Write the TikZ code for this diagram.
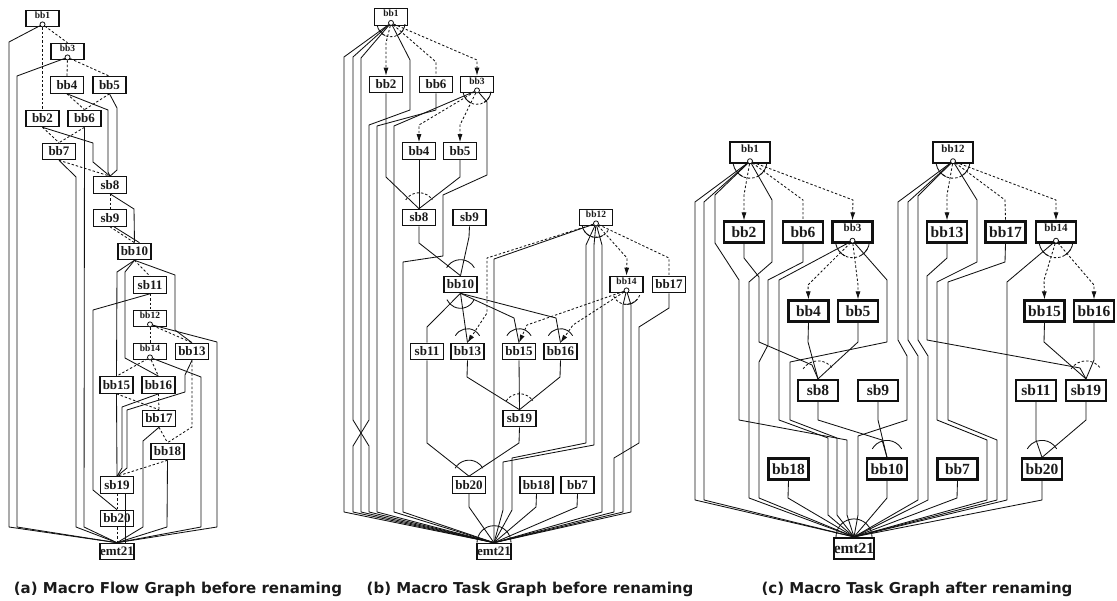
\documentclass[tikz,border=0pt]{standalone}
\usepackage{fontspec}
\setmainfont{Liberation Serif}
\newfontfamily\captionfont{DejaVu Sans}
\usetikzlibrary{calc, arrows.meta, positioning}
\definecolor{color_line}{HTML}{111111}
\definecolor{color_text}{HTML}{1A1A1A}
\tikzset{
  task_box/.style={draw=color_line, line width=1.1pt, fill=white, inner sep=0pt, minimum width=33pt, minimum height=16.5pt, text=color_text, font=\bfseries\fontsize{13}{13}\selectfont},
  task_small/.style={task_box, font=\bfseries\fontsize{9.5}{9.5}\selectfont, text height=7pt, text depth=7pt},
  task_wide/.style={task_box, line width=2.2pt, minimum width=40pt, minimum height=21pt, font=\bfseries\fontsize{15.5}{15.5}\selectfont},
  task_wide_small/.style={task_wide, font=\bfseries\fontsize{11}{11}\selectfont, text height=8pt, text depth=8pt},
  or_dot/.style={circle, draw=color_line, fill=white, line width=0.8pt, inner sep=0pt, minimum size=5pt},
  dep_line/.style={draw=color_line, line width=0.85pt, line join=round},
  ctl_line/.style={dep_line, dash pattern=on 2.4pt off 2pt},
  ctl_arrow/.style={ctl_line, -{Latex[length=8pt, width=5pt]}},
  caption_text/.style={font=\captionfont\bfseries\fontsize{15}{15}\selectfont, text=color_text},
}

\begin{document}
\begin{tikzpicture}[x=1pt, y=-1pt]
    \useasboundingbox (0,0) rectangle (1117,601);
    % (a) macro flow graph
    \node[task_small] (a1) at (42.5,18.5) {bb1};
    \node[task_small] (a3) at (67.5,51.5) {bb3};
    \node[task_box] (a4) at (67,85) {bb4};
    \node[task_box] (a5) at (109.5,85) {bb5};
    \node[task_box] (a2) at (42.5,118.5) {bb2};
    \node[task_box] (a6) at (84.5,118.5) {bb6};
    \node[task_box] (a7) at (59,151.5) {bb7};
    \node[task_box] (a8) at (110,185) {sb8};
    \node[task_box] (a9) at (110,218) {sb9};
    \node[task_box] (a10) at (134.5,251.5) {bb10};
    \node[task_box] (a11) at (150,285) {sb11};
    \node[task_small] (a12) at (150,318.5) {bb12};
    \node[task_small] (a14) at (150,351.5) {bb14};
    \node[task_box] (a13) at (192,351.5) {bb13};
    \node[task_box] (a15) at (116.5,385) {bb15};
    \node[task_box] (a16) at (158.5,385) {bb16};
    \node[task_box] (a17) at (159,418.5) {bb17};
    \node[task_box] (a18) at (167.5,451.5) {bb18};
    \node[task_box] (a19) at (117,485) {sb19};
    \node[task_box] (a20) at (117,518.5) {bb20};
    \node[task_box] (a21) at (117,551.5) {emt21};
    \node[or_dot, anchor=south] (a1-o) at (a1.south) {};
    \node[or_dot, anchor=south] (a3-o) at (a3.south) {};
    \node[or_dot, anchor=south] (a12-o) at (a12.south) {};
    \node[or_dot, anchor=south] (a14-o) at (a14.south) {};

    \draw[ctl_line] (a1-o) -- (a3.north);
    \draw[ctl_line] (a1-o) -- (a2.north);
    \draw[dep_line] (a1-o) -- (9,42) -- (9,527) -- (a21.north);
    \draw[dep_line] (a3-o) -- (17,76) -- (17,527) -- (a21.north);
    \draw[ctl_line] (a3-o) -- (a4.north);
    \draw[ctl_line] (a3-o) -- (a5.north);
    \draw[ctl_line] (a4.south) -- (a6.north);
    \draw[ctl_line] (a5.south) -- (a6.north);
    \draw[dep_line] (a4.south) -- (108,110) -- (108,172) -- (a8.north);
    \draw[dep_line] (a5.south) -- (117,108) -- (117,170) -- (a8.north);
    \draw[ctl_line] (a2.south) -- (a7.north);
    \draw[ctl_line] (a6.south) -- (a7.north);
    \draw[dep_line] (a2.south) -- (93,143) -- (93,162) -- (a8.north);
    \draw[dep_line] (a6.south) -- (84,527) -- (a21.north);
    \draw[ctl_line] (a7.south) -- (a8.north);
    \draw[dep_line] (a7.south) -- (76,177) -- (76,527) -- (a21.north);
    \draw[ctl_line] (a8.south) -- (a9.north);
    \draw[dep_line] (a8.south) -- (134,209) -- (a10.north);
    \draw[ctl_line] (a9.south) -- (a10.north);
    \draw[dep_line] ([xshift=4pt]a9.south) -- ([xshift=5pt]a10.north);
    \draw[ctl_line] (a10.south) -- (a11.north);
    \draw[dep_line] (a10.south) -- (117,272) -- (a15.north);
    \draw[dep_line] (a10.south) -- (125,272) -- (125,358) -- (a16.north);
    \draw[dep_line] (a10.south) -- (175,275) -- (175,330) -- (a13.north);
    \draw[ctl_line] (a11.south) -- (a12.north);
    \draw[dep_line] (a11.south) -- (93,310) -- (93,490) -- (a20.north);
    \draw[ctl_line] (a12-o) -- (a14.north);
    \draw[ctl_line] (a12-o) -- (a13.north);
    \draw[dep_line] (a12-o) -- (217,342) -- (217,527) -- (a21.north);
    \draw[ctl_line] (a14-o) -- (a15.north);
    \draw[ctl_line] (a14-o) -- (a16.north);
    \draw[dep_line] (a14-o) -- (201,377) -- (201,527) -- (a21.north);
    \draw[dep_line] (a13.south) -- (185,375) -- (185,392) -- (127,410) -- (127,468) -- (a19.north);
    \draw[dep_line] (a16.south) -- (122,407) -- (122,468) -- (a19.north);
    \draw[dep_line] (a15.south) -- (a19.north);
    \draw[ctl_line] (a15.south) -- (a17.north);
    \draw[ctl_line] (a16.south) -- (a17.north);
    \draw[dep_line] (a17.south) -- (143,441) -- (143,527) -- (a21.north);
    \draw[ctl_line] (a17.south) -- (a18.north);
    \draw[ctl_line] (a13.south) -- (192,427) -- (a18.north);
    \draw[ctl_line] (a18.south) -- (a19.north);
    \draw[dep_line] (a18.south) -- (167,527) -- (a21.north);
    \draw[ctl_line] (a19.south) -- (a20.north);
    \draw[dep_line] ([xshift=8pt]a19.south) -- ([xshift=8pt]a21.north);
    \draw[ctl_line] (a20.south) -- (a21.north);

    % (b) macro task graph before renaming
    \node[task_small] (b1) at (391,17) {bb1};
    \node[task_box] (b2) at (386,84.5) {bb2};
    \node[task_box] (b6) at (436,84.5) {bb6};
    \node[task_small] (b3) at (477,84.5) {bb3};
    \node[task_box] (b4) at (419,151) {bb4};
    \node[task_box] (b5) at (460,151) {bb5};
    \node[task_box] (b8) at (419,217.5) {sb8};
    \node[task_box] (b9) at (469.5,217.5) {sb9};
    \node[task_box] (b10) at (460.5,284.5) {bb10};
    \node[task_small] (b12) at (596,217.5) {bb12};
    \node[task_small] (b14) at (626.5,284.5) {bb14};
    \node[task_box] (b17) at (669,284.5) {bb17};
    \node[task_box] (b11) at (427,351.5) {sb11};
    \node[task_box] (b13) at (467.5,351.5) {bb13};
    \node[task_box] (b15) at (519,351.5) {bb15};
    \node[task_box] (b16) at (560.5,351.5) {bb16};
    \node[task_box] (b19) at (519.5,418.5) {sb19};
    \node[task_box] (b20) at (469,485) {bb20};
    \node[task_box] (b18) at (536.5,485) {bb18};
    \node[task_box] (b7) at (577.5,485) {bb7};
    \node[task_box] (b21) at (494,551.5) {emt21};
    \node[or_dot, anchor=south] (b1-o) at (b1.south) {};
    \node[or_dot, anchor=south] (b3-o) at (b3.south) {};
    \node[or_dot, anchor=south] (b12-o) at (b12.south) {};
    \node[or_dot, anchor=south] (b14-o) at (b14.south) {};

    \draw[ctl_arrow] (b1-o) -- (386,43) -- (b2.north);
    \draw[ctl_line] (b1-o) -- (436,62) -- (b6.north);
    \draw[ctl_arrow] (b1-o) -- (477,60) -- (b3.north);
    \draw[dep_line] (b1-o) -- (344,57) -- (344,512) -- (b21.north);
    \draw[dep_line] (b1-o) -- (353,57) -- (353,420) -- (369,446) -- (369,512) -- (b21.north);
    \draw[dep_line] (b1-o) -- (361,58) -- (361,512) -- (b21.north);
    \draw[dep_line] (b1-o) -- (410,60) -- (410,110) -- (369,125) -- (369,420) -- (353,446) -- (353,512) -- (b21.north);
    \draw[dep_line] (b6.south) -- (436,110) -- (377,126) -- (377,512) -- (b21.north);
    \draw[dep_line] (b3-o) -- (394,126) -- (394,512) -- (b21.north);
    \draw[dep_line] (b3-o) -- (487,102) -- (487,175) -- (443,195) -- (443,256) -- (403,262) -- (403,512) -- (b21.north);
    \draw[ctl_arrow] (b3-o) -- (419,125) -- (b4.north);
    \draw[ctl_arrow] (b3-o) -- (460,125) -- (b5.north);
    \draw[dep_line] (b2.south) -- (386,177) -- (b8.north);
    \draw[dep_line] (b4.south) -- (b8.north);
    \draw[dep_line] (b5.south) -- (460,177) -- (b8.north);
    \draw[dep_line] (b8.south) -- (419,243) -- (b10.north);
    \draw[dep_line] (b9.south) -- (469,237) -- (b10.north);
    \draw[ctl_arrow] (b12-o) -- (487,258) -- (487,313) -- (b13.north);
    \draw[dep_line] (b12-o) -- (494,259) -- (b21.north);
    \draw[ctl_arrow] (b12-o) -- (627,258) -- (b14.north);
    \draw[ctl_line] (b12-o) -- (669,258) -- (b17.north);
    \draw[dep_line] (b12-o) -- (586,245) -- (586,443) -- (512,458) -- (512,510) -- (b21.north);
    \draw[dep_line] (b12-o) -- (594,245) -- (594,445) -- (503,462) -- (503,510) -- (b21.north);
    \draw[dep_line] (b12-o) -- (602,245) -- (602,512) -- (b21.north);
    \draw[ctl_arrow] (b14-o) -- (527,325) -- (b15.north);
    \draw[ctl_arrow] (b14-o) -- (573,325) -- (b16.north);
    \draw[dep_line] (b14-o) -- (623,305) -- (623,512) -- (b21.north);
    \draw[dep_line] (b14-o) -- (631,305) -- (631,512) -- (b21.north);
    \draw[dep_line] (b17.south) -- (669,308) -- (639,327) -- (639,443) -- (614,458) -- (614,512) -- (b21.north);
    \draw[dep_line] (b10.south) -- (427,327) -- (b11.north);
    \draw[dep_line] (b10.south) -- (b13.north);
    \draw[dep_line] (b10.south) -- (514,318) -- (b15.north);
    \draw[dep_line] (b10.south) -- (556,318) -- (b16.north);
    \draw[dep_line] (b11.south) -- (427,443) -- (b20.north);
    \draw[dep_line] (b13.south) -- (467,377) -- (b19.north);
    \draw[dep_line] (b15.south) -- (b19.north);
    \draw[dep_line] (b16.south) -- (560,377) -- (b19.north);
    \draw[dep_line] (b19.south) -- (519,443) -- (b20.north);
    \draw[dep_line] (b20.south) -- (469,507) -- (b21.north);
    \draw[dep_line] (b18.south) -- (536,507) -- (b21.north);
    \draw[dep_line] (b7.south) -- (577,507) -- (b21.north);
    % and/or marks
    \draw[ctl_line] ([shift={(30:14)}]b1-o.center) arc (30:150:14);
    \draw[dep_line] ([shift={(115:14)}]b1-o.center) arc (115:170:14);
    \draw[dep_line] ([shift={(5:14)}]b1-o.center) arc (5:60:14);
    \draw[ctl_line] ([shift={(30:14)}]b3-o.center) arc (30:150:14);
    \draw[dep_line] ([shift={(115:14)}]b3-o.center) arc (115:170:14);
    \draw[dep_line] ([shift={(5:14)}]b3-o.center) arc (5:60:14);
    \draw[ctl_line] ([shift={(30:14)}]b12-o.center) arc (30:150:14);
    \draw[dep_line] ([shift={(115:14)}]b12-o.center) arc (115:170:14);
    \draw[dep_line] ([shift={(60:14)}]b12-o.center) arc (60:110:14);
    \draw[ctl_line] ([shift={(20:14)}]b14-o.center) arc (20:160:14);
    \draw[dep_line] ([shift={(40:14)}]b14-o.center) arc (40:100:14);
    \draw[ctl_line] ([shift={(214:16)}]b8.north) arc (214:326:16);
    \draw[dep_line] ([shift={(210:16)}]b10.north) arc (210:330:16);
    \draw[dep_line] ([shift={(25:15)}]b10.south) arc (25:155:15);
    \draw[dep_line] ([shift={(210:14)}]b13.north) arc (210:330:14);
    \draw[dep_line] ([shift={(210:14)}]b15.north) arc (210:330:14);
    \draw[dep_line] ([shift={(210:14)}]b16.north) arc (210:330:14);
    \draw[ctl_line] ([shift={(214:16)}]b19.north) arc (214:326:16);
    \draw[dep_line] ([shift={(210:16)}]b20.north) arc (210:330:16);
    \draw[dep_line] ([shift={(180:17)}]b21.north) arc (180:360:17);

    % (c) macro task graph after renaming
    \node[task_wide_small] (c1) at (750,152.5) {bb1};
    \node[task_wide] (c2) at (744,232) {bb2};
    \node[task_wide] (c6) at (803,232) {bb6};
    \node[task_wide_small] (c3) at (852.5,232) {bb3};
    \node[task_wide] (c4) at (808.5,311) {bb4};
    \node[task_wide] (c5) at (858,311) {bb5};
    \node[task_wide_small] (c12) at (953,152.5) {bb12};
    \node[task_wide] (c13) at (947,232) {bb13};
    \node[task_wide] (c17) at (1005.5,232) {bb17};
    \node[task_wide_small] (c14) at (1056,232) {bb14};
    \node[task_wide] (c15) at (1044.5,311) {bb15};
    \node[task_wide] (c16) at (1094,311) {bb16};
    \node[task_wide] (c8) at (818,390.5) {sb8};
    \node[task_wide] (c9) at (878,390.5) {sb9};
    \node[task_wide] (c11) at (1036,390.5) {sb11};
    \node[task_wide] (c19) at (1086,390.5) {sb19};
    \node[task_wide] (c18) at (788.5,469) {bb18};
    \node[task_wide] (c10) at (887,469) {bb10};
    \node[task_wide] (c7) at (957.5,469) {bb7};
    \node[task_wide] (c20) at (1042,469) {bb20};
    \node[task_wide] (c21) at (854,548.5) {emt21};
    \node[or_dot, anchor=south] (c1-o) at (c1.south) {};
    \node[or_dot, anchor=south] (c3-o) at (c3.south) {};
    \node[or_dot, anchor=south] (c12-o) at (c12.south) {};
    \node[or_dot, anchor=south] (c14-o) at (c14.south) {};

    \draw[ctl_arrow] (c1-o) -- (744,195) -- (c2.north);
    \draw[ctl_line] (c1-o) -- (803,200) -- (c6.north);
    \draw[ctl_arrow] (c1-o) -- (853,200) -- (c3.north);
    \draw[dep_line] (c1-o) -- (695,202) -- (695,500) -- (c21.north);
    \draw[dep_line] (c1-o) -- (704,202) -- (704,500) -- (c21.north);
    \draw[dep_line] (c1-o) -- (715,195) -- (715,243) -- (739,280) -- (739,420) -- (847,440) -- (847,515) -- (c21.north);
    \draw[dep_line] (c1-o) -- (772,200) -- (772,262) -- (749,282) -- (749,498) -- (c21.north);
    \draw[dep_line] (c2.south) -- (744,258) -- (759,277) -- (759,342) -- (812,365) -- (c8.north);
    \draw[dep_line] (c6.south) -- (803,262) -- (768,280) -- (768,345) -- (759,362) -- (759,498) -- (c21.north);
    \draw[dep_line] (c3-o) -- (779,280) -- (779,420) -- (828,438) -- (828,515) -- (c21.north);
    \draw[dep_line] (c3-o) -- (887,280) -- (887,342) -- (790,362) -- (790,420) -- (837,438) -- (837,515) -- (c21.north);
    \draw[ctl_arrow] (c3-o) -- (808,285) -- (c4.north);
    \draw[ctl_arrow] (c3-o) -- (858,285) -- (c5.north);
    \draw[dep_line] (c4.south) -- (808,342) -- (c8.north);
    \draw[dep_line] (c5.south) -- (858,342) -- (c8.north);
    \draw[dep_line] (c8.south) -- (818,420) -- (882,440) -- (c10.north);
    \draw[dep_line] (c9.south) -- (878,420) -- (c10.north);
    \draw[ctl_arrow] (c12-o) -- (947,195) -- (c13.north);
    \draw[ctl_line] (c12-o) -- (1005,200) -- (c17.north);
    \draw[ctl_arrow] (c12-o) -- (1056,200) -- (c14.north);
    \draw[dep_line] (c12-o) -- (898,202) -- (898,340) -- (907,356) -- (907,420) -- (858,436) -- (858,515) -- (c21.north);
    \draw[dep_line] (c12-o) -- (908,202) -- (908,340) -- (918,356) -- (918,500) -- (c21.north);
    \draw[dep_line] (c12-o) -- (918,196) -- (918,340) -- (928,356) -- (928,500) -- (c21.north);
    \draw[dep_line] (c12-o) -- (977,200) -- (977,262) -- (937,282) -- (937,420) -- (987,440) -- (987,500) -- (c21.north);
    \draw[dep_line] (c17.south) -- (1005,262) -- (948,282) -- (948,420) -- (997,440) -- (997,500) -- (c21.north);
    \draw[dep_line] (c13.south) -- (947,258) -- (927,276) -- (927,340) -- (1080,368) -- (c19.north);
    \draw[ctl_arrow] (c14-o) -- (1044,280) -- (c15.north);
    \draw[ctl_arrow] (c14-o) -- (1094,285) -- (c16.north);
    \draw[dep_line] (c14-o) -- (1007,282) -- (1007,500) -- (c21.north);
    \draw[dep_line] (c15.south) -- (1044,342) -- (c19.north);
    \draw[dep_line] (c16.south) -- (1094,360) -- (c19.north);
    \draw[dep_line] (c11.south) -- (1036,440) -- (c20.north);
    \draw[dep_line] (c19.south) -- (1086,420) -- (c20.north);
    \draw[dep_line] (c18.south) -- (788,498) -- (c21.north);
    \draw[dep_line] (c10.south) -- (887,498) -- (c21.north);
    \draw[dep_line] (c7.south) -- (957,498) -- (c21.north);
    \draw[dep_line] (c20.south) -- (1042,500) -- (c21.north);
    % and/or marks
    \draw[ctl_line] ([shift={(30:17)}]c1-o.center) arc (30:150:17);
    \draw[dep_line] ([shift={(115:17)}]c1-o.center) arc (115:170:17);
    \draw[dep_line] ([shift={(5:17)}]c1-o.center) arc (5:60:17);
    \draw[ctl_line] ([shift={(30:17)}]c3-o.center) arc (30:150:17);
    \draw[dep_line] ([shift={(115:17)}]c3-o.center) arc (115:170:17);
    \draw[dep_line] ([shift={(5:17)}]c3-o.center) arc (5:60:17);
    \draw[ctl_line] ([shift={(30:17)}]c12-o.center) arc (30:150:17);
    \draw[dep_line] ([shift={(115:17)}]c12-o.center) arc (115:170:17);
    \draw[dep_line] ([shift={(5:17)}]c12-o.center) arc (5:60:17);
    \draw[ctl_line] ([shift={(30:17)}]c14-o.center) arc (30:150:17);
    \draw[dep_line] ([shift={(115:17)}]c14-o.center) arc (115:170:17);
    \draw[dep_line] ([shift={(5:17)}]c14-o.center) arc (5:60:17);
    \draw[ctl_line] ([shift={(214:18)}]c8.north) arc (214:326:18);
    \draw[ctl_line] ([shift={(214:18)}]c19.north) arc (214:326:18);
    \draw[dep_line] ([shift={(210:17)}]c10.north) arc (210:330:17);
    \draw[dep_line] ([shift={(210:17)}]c20.north) arc (210:330:17);
    \draw[dep_line] ([shift={(180:18)}]c21.north) arc (180:360:18);

    % captions
    \node[caption_text] (cap_a) at (178,589) {(a) Macro Flow Graph before renaming};
    \node[caption_text] (cap_b) at (530,589) {(b) Macro Task Graph before renaming};
    \node[caption_text] (cap_c) at (917,589) {(c) Macro Task Graph after renaming};
\end{tikzpicture}
\end{document}
